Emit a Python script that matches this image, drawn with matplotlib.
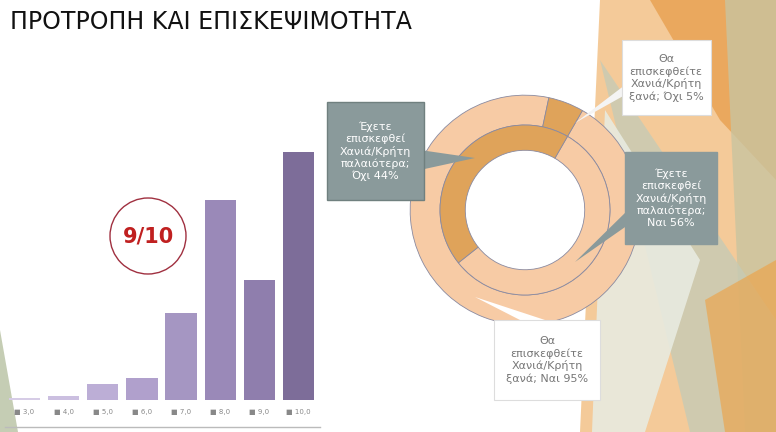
import matplotlib.pyplot as plt
from matplotlib.patches import Polygon, Circle, Rectangle

# data
bar_labels = ["3,0", "4,0", "5,0", "6,0", "7,0", "8,0", "9,0", "10,0"]
bar_values = [2, 4, 16, 22, 87, 200, 120, 248]
bar_colors = ["#d6cce6", "#cbbfe0", "#bcaed6", "#b0a0cc", "#a596c2", "#9a89b8", "#8f7ead", "#7d6d99"]

outer_vals = [95, 5]    # Θα επισκεφθείτε ξανά: Ναι / Όχι
inner_vals = [56, 44]   # Έχετε επισκεφθεί παλαιότερα: Ναι / Όχι
light = "#f7cba5"
dark = "#dfa35a"

W, H = 776, 432
fig = plt.figure(figsize=(W / 100, H / 100), dpi=100)
fig.patch.set_facecolor("white")

# background decorations in pixel coords
bg = fig.add_axes([0, 0, 1, 1])
bg.set_xlim(0, W)
bg.set_ylim(H, 0)
bg.axis("off")
shapes = [
    ([(600, 0), (776, 0), (776, 432), (580, 432)], "#f3c58e", 0.9),
    ([(650, 0), (776, 0), (776, 180), (720, 120)], "#e8a050", 0.8),
    ([(725, 0), (776, 0), (776, 432), (745, 432)], "#c9c4a0", 0.8),
    ([(600, 60), (776, 320), (776, 432), (690, 432)], "#c6cbb5", 0.8),
    ([(605, 110), (700, 260), (645, 432), (592, 432)], "#e8ebe0", 0.9),
    ([(705, 300), (776, 260), (776, 432), (725, 432)], "#f0a040", 0.6),
    ([(0, 330), (18, 432), (0, 432)], "#c5cdb4", 1.0),
]
for pts, col, a in shapes:
    bg.add_patch(Polygon(pts, closed=True, color=col, alpha=a, lw=0))
bg.text(10, 22, "ΠΡΟΤΡΟΠΗ ΚΑΙ ΕΠΙΣΚΕΨΙΜΟΤΗΤΑ", fontsize=17, color="#111111",
        va="center", ha="left")
bg.add_patch(Circle((148, 236), 38, fill=False, ec="#a03040", lw=1))
bg.text(148, 236, "9/10", fontsize=15, color="#c02020", fontweight="bold",
        ha="center", va="center")
bg.plot([5, 320], [427, 427], color="#bbbbbb", lw=1)

# bar chart
ax = fig.add_axes([5 / W, 1 - 400 / H, 313 / W, 260 / H])
x = range(len(bar_values))
ax.bar(x, bar_values, color=bar_colors, width=0.8)
ax.set_xlim(-0.5, len(bar_values) - 0.5)
ax.set_ylim(0, 260)
ax.axis("off")
for i, lab in enumerate(bar_labels):
    ax.text(i, -12, "\u25a0 " + lab, fontsize=5, color="#888888",
            ha="center", va="center")

# donut chart
cx, cy, R = 525, 210, 116
dax = fig.add_axes([(cx - R) / W, 1 - (cy + R) / H, 2 * R / W, 2 * R / H])
dax.pie(outer_vals, radius=1, colors=[light, dark], startangle=60, counterclock=False,
        wedgeprops=dict(width=0.26, edgecolor="#8a8aa0", linewidth=0.6))
dax.pie(inner_vals, radius=0.74, colors=[light, dark], startangle=60, counterclock=False,
        wedgeprops=dict(width=0.22, edgecolor="#8a8aa0", linewidth=0.6))
dax.set_xlim(-1.01, 1.01)
dax.set_ylim(-1.01, 1.01)
dax.set_aspect("equal")

# callouts on an overlay
top = fig.add_axes([0, 0, 1, 1])
top.set_xlim(0, W)
top.set_ylim(H, 0)
top.axis("off")
top.patch.set_alpha(0)
grey = "#8a9a9b"
top.add_patch(Polygon([(420, 150), (475, 158), (420, 170)], color=grey, lw=0))
top.add_patch(Rectangle((327, 102), 97, 98, color=grey, ec="#70807f"))
top.text(375, 151, "Έχετε\nεπισκεφθεί\nΧανιά/Κρήτη\nπαλαιότερα;\nΌχι 44%", fontsize=8,
         color="white", ha="center", va="center", linespacing=1.2)

top.add_patch(Polygon([(628, 210), (575, 262), (628, 225)], color=grey, lw=0))
top.add_patch(Rectangle((625, 152), 92, 92, color=grey))
top.text(671, 198, "Έχετε\nεπισκεφθεί\nΧανιά/Κρήτη\nπαλαιότερα;\nΝαι 56%", fontsize=8,
         color="white", ha="center", va="center", linespacing=1.2)

top.add_patch(Polygon([(625, 85), (575, 123), (625, 95)], color="#f4f4f4", lw=0))
top.add_patch(Rectangle((622, 40), 89, 75, fc="white", ec="#dddddd", lw=0.8))
top.text(666, 78, "Θα\nεπισκεφθείτε\nΧανιά/Κρήτη\nξανά; Όχι 5%", fontsize=8,
         color="#777777", ha="center", va="center", linespacing=1.2)

top.add_patch(Polygon([(520, 320), (475, 297), (545, 320)], color="white", lw=0))
top.add_patch(Rectangle((494, 320), 106, 80, fc="white", ec="#dddddd", lw=0.8))
top.text(547, 360, "Θα\nεπισκεφθείτε\nΧανιά/Κρήτη\nξανά; Ναι 95%", fontsize=8,
         color="#777777", ha="center", va="center", linespacing=1.2)

fig.savefig("out.png", dpi=100)
